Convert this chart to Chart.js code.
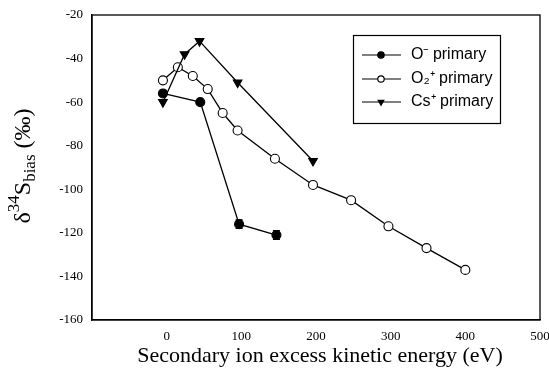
<!DOCTYPE html>
<html>
<head>
<meta charset="utf-8">
<script src="https://cdn.jsdelivr.net/npm/chart.js@4.4.0/dist/chart.umd.min.js"></script>
<style>
  html, body { margin: 0; padding: 0; background: #fff; }
  #wrap { width: 549px; height: 384px; position: relative; }
</style>
</head>
<body>
<div id="wrap"><canvas id="chart"></canvas></div>
<script>
// data
const oMinusX = [-5, 45, 97, 147]
const oMinusY = [-56, -60, -116, -121]
const oMinusErr = [0, 0, 2, 2]

const o2PlusX = [-5, 15, 35, 55, 75, 95, 145, 196, 247, 297, 348, 400]
const o2PlusY = [-50, -44, -48, -54, -65, -73, -86, -98, -105, -117, -127, -137]

const csPlusX = [-5, 24, 44, 95, 196]
const csPlusY = [-60, -38, -32, -51, -87]

const seriesNames = ['O\u207B primary', 'O\u2082\u207A primary', 'Cs\u207A primary']
const xTicks = [0, 100, 200, 300, 400, 500]
const yTicks = [-160, -140, -120, -100, -80, -60, -40, -20]

const pts = (xs, ys) => xs.map((x, i) => ({ x: x, y: ys[i] }))

// error bars on the O- series
const errorBars = {
  id: 'errorBars',
  afterDatasetsDraw(chart) {
    const ctx = chart.ctx
    const xs = chart.scales.x, ys = chart.scales.y
    ctx.save()
    ctx.strokeStyle = '#000'
    ctx.lineWidth = 1.2
    oMinusX.forEach((x, i) => {
      const e = oMinusErr[i]
      if (!e) return
      const px = xs.getPixelForValue(x)
      const top = ys.getPixelForValue(oMinusY[i] + e)
      const bot = ys.getPixelForValue(oMinusY[i] - e)
      ctx.beginPath()
      ctx.moveTo(px, top); ctx.lineTo(px, bot)
      ctx.moveTo(px - 3.5, top); ctx.lineTo(px + 3.5, top)
      ctx.moveTo(px - 3.5, bot); ctx.lineTo(px + 3.5, bot)
      ctx.stroke()
    })
    ctx.restore()
  }
}

// frame, axis titles and the boxed legend
const decorations = {
  id: 'decorations',
  afterDraw(chart) {
    const ctx = chart.ctx
    const a = chart.chartArea
    ctx.save()
    ctx.strokeStyle = '#000'
    ctx.lineWidth = 1.3
    ctx.strokeRect(a.left, a.top, a.right - a.left, a.bottom - a.top)

    // x title
    ctx.fillStyle = '#000'
    ctx.font = '22px "Liberation Serif", "Times New Roman", serif'
    ctx.textAlign = 'center'
    ctx.textBaseline = 'middle'
    ctx.fillText('Secondary ion excess kinetic energy (eV)', 320, 356)

    // y title with super/subscripts
    ctx.translate(24, 166)
    ctx.rotate(-Math.PI / 2)
    const parts = [
      ['\u03B4', 24, 0],
      ['34', 17, -9],
      ['S', 24, 0],
      ['bias', 17, 7],
      [' (\u2030)', 24, 0]
    ]
    let total = 0
    parts.forEach(p => {
      ctx.font = p[1] + 'px "Liberation Serif", serif'
      total += ctx.measureText(p[0]).width
    })
    let cx = -total / 2
    ctx.textAlign = 'left'
    parts.forEach(p => {
      ctx.font = p[1] + 'px "Liberation Serif", serif'
      ctx.fillText(p[0], cx, p[2])
      cx += ctx.measureText(p[0]).width
    })
    ctx.restore()

    // legend
    ctx.save()
    ctx.strokeStyle = '#000'
    ctx.lineWidth = 1.2
    ctx.strokeRect(353.5, 35.5, 147, 88)
    const rows = [55, 79, 102]
    const styles = ['circle', 'circle', 'triangle']
    const fills = ['#000', '#fff', '#000']
    ctx.font = '16px "Liberation Sans", Arial, sans-serif'
    ctx.textAlign = 'left'
    ctx.textBaseline = 'middle'
    rows.forEach((y, i) => {
      ctx.beginPath()
      ctx.moveTo(362, y); ctx.lineTo(401, y)
      ctx.stroke()
      ctx.fillStyle = fills[i]
      Chart.helpers.drawPoint(ctx, {
        pointStyle: styles[i], radius: 3.2, rotation: i === 2 ? 180 : 0, borderWidth: 1
      }, 381, y)
      ctx.fillStyle = '#000'
      ctx.fillText(seriesNames[i], 411, y)
    })
    ctx.restore()
  }
}

const common = {
  borderColor: '#000',
  borderWidth: 1.3,
  pointBorderColor: '#000',
  pointBorderWidth: 1.1,
  pointRadius: 4.5,
  showLine: true,
  tension: 0
}

new Chart(document.getElementById('chart'), {
  type: 'scatter',
  data: {
    datasets: [
      Object.assign({}, common, {
        label: seriesNames[2],
        data: pts(csPlusX, csPlusY),
        pointStyle: 'triangle',
        rotation: 180,
        pointRadius: 5,
        pointBackgroundColor: '#000'
      }),
      Object.assign({}, common, {
        label: seriesNames[1],
        data: pts(o2PlusX, o2PlusY),
        pointStyle: 'circle',
        pointBackgroundColor: '#fff'
      }),
      Object.assign({}, common, {
        label: seriesNames[0],
        data: pts(oMinusX, oMinusY),
        pointStyle: 'circle',
        pointBackgroundColor: '#000'
      })
    ]
  },
  options: {
    responsive: true,
    maintainAspectRatio: false,
    animation: false,
    layout: { padding: { top: 15, right: 9, left: 0, bottom: 0 } },
    plugins: { legend: { display: false }, tooltip: { enabled: false } },
    scales: {
      x: {
        type: 'linear',
        min: -100,
        max: 500,
        afterFit: s => { s.height = 64; s.paddingRight = 0 },
        afterBuildTicks: s => { s.ticks = xTicks.map(v => ({ value: v })) },
        grid: { display: false, drawTicks: true, tickLength: 6, tickColor: '#000' },
        border: { color: '#000', width: 1.3 },
        ticks: {
          color: '#000',
          padding: 3,
          maxRotation: 0,
          font: { family: '"Liberation Serif", serif', size: 13 }
        }
      },
      y: {
        type: 'linear',
        min: -160,
        max: -20,
        afterFit: s => { s.width = 92 },
        afterBuildTicks: s => { s.ticks = yTicks.map(v => ({ value: v })) },
        grid: { display: false, drawTicks: true, tickLength: 6, tickColor: '#000' },
        border: { color: '#000', width: 1.3 },
        ticks: {
          color: '#000',
          padding: 3,
          font: { family: '"Liberation Serif", serif', size: 13 }
        }
      }
    }
  },
  plugins: [errorBars, decorations]
})
</script>
</body>
</html>
